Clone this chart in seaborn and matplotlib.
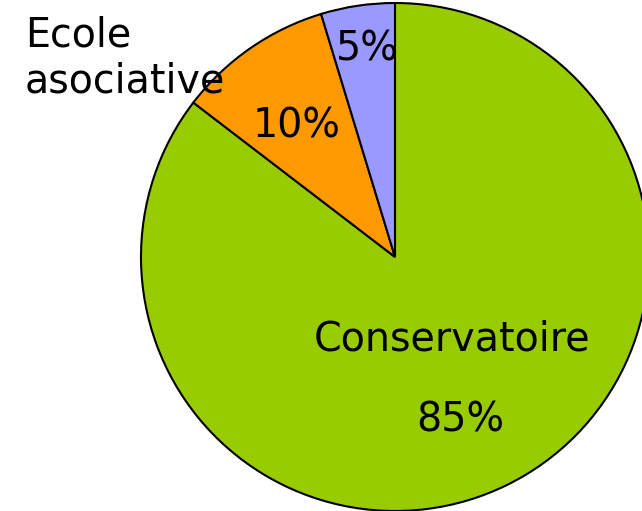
import matplotlib
matplotlib.use("Agg")
import matplotlib.pyplot as plt
import seaborn as sns

categories = ["Conservatoire", "Ecole\nasociative", ""]
values = [85.4, 9.9, 4.7]
pct_labels = ["85%", "10%", "5%"]
colors = ["#99CC00", "#FF9900", "#9999FF"]

sns.set_style("white")
plt.rcParams['font.family'] = ['DejaVu Sans']
plt.rcParams['text.color'] = 'black'

W, H = 642, 511
fig = plt.figure(figsize=(W / 100, H / 100), dpi=100)
cx, cy, r = 395, 254, 254
ax = fig.add_axes([(cx - r) / W, (cy - r) / H, 2 * r / W, 2 * r / H])
wedges, _ = ax.pie(values, colors=colors, startangle=90, counterclock=False,
                   radius=1, wedgeprops=dict(edgecolor="black", linewidth=1.5))
for w in wedges:
    w.set_clip_on(False)
ax.set_xlim(-1, 1)
ax.set_ylim(-1, 1)
ax.set_aspect("equal")
ax.axis("off")

fs = 28.5
kw = dict(fontsize=fs, color="black", clip_on=False)
ax.text(0.224, -0.325, categories[0], ha="center", va="center", **kw)
ax.text(0.256, -0.645, pct_labels[0], ha="center", va="center", **kw)
ax.text(-0.386, 0.514, pct_labels[1], ha="center", va="center", **kw)
ax.text(-0.11, 0.815, pct_labels[2], ha="center", va="center", **kw)
ax.text(-1.457, 0.78, categories[1], ha="left", va="center",
        linespacing=1.2, **kw)

fig.savefig("out.png", dpi=100)
